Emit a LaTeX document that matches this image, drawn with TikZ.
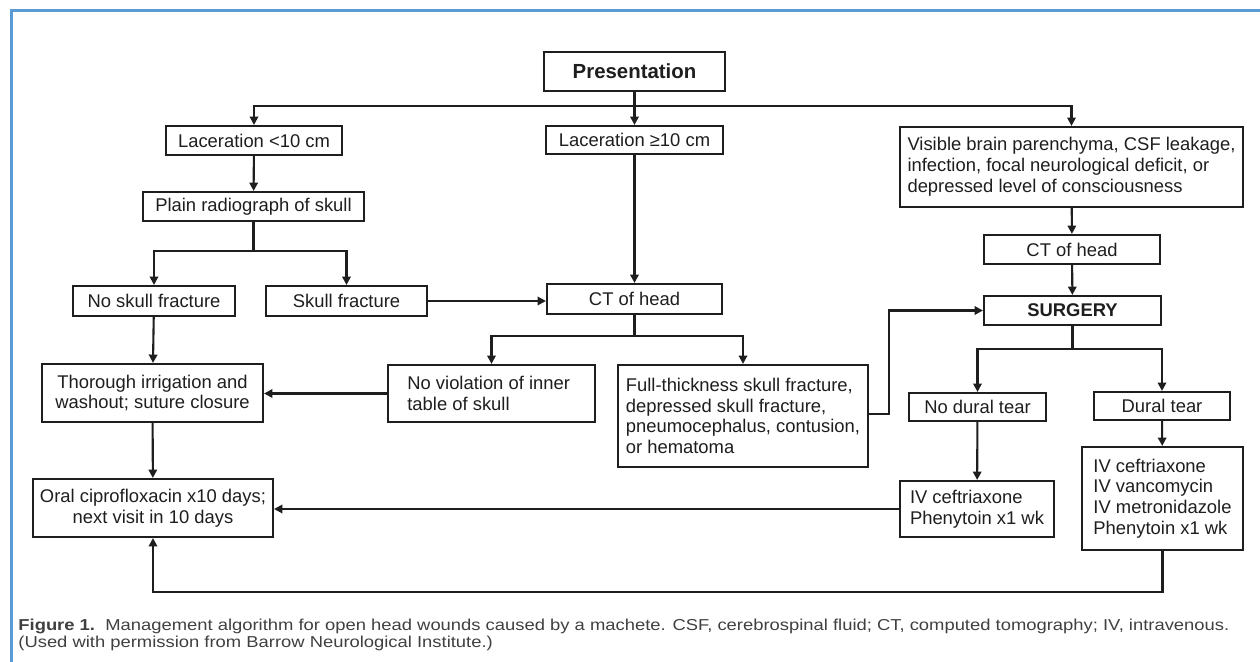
\documentclass[tikz,border=0pt]{standalone}
\usepackage{fontspec}
\setmainfont{Liberation Sans}
\usetikzlibrary{arrows.meta}
\definecolor{frameblue}{RGB}{91,155,213}
\definecolor{ink}{RGB}{30,30,30}
\tikzset{
  box/.style={draw=ink, line width=1.05pt, text=ink, inner sep=2pt, font=\fontsize{9.2}{10.4}\selectfont},
  lbox/.style={box, align=left},
  cbox/.style={box, align=center},
  arr/.style={draw=ink, line width=1.05pt, -{Triangle[length=4.2pt,width=4.2pt]}},
  ln/.style={draw=ink, line width=1.05pt},
  capt/.style={anchor=base west, inner sep=0pt, text=ink!85, font=\fontsize{9.2}{11}\selectfont}
}
\begin{document}
\begin{tikzpicture}[x=0.5pt,y=-0.5pt]
\useasboundingbox (0,0) rectangle (1260,662);
\fill[white] (0,0) rectangle (1260,662);
\draw[frameblue, line width=1.5pt] (11,662) -- (11,11) -- (1260,11);

% boxes
\node[cbox, minimum width=90.5pt, minimum height=19.5pt, font=\fontsize{10.2}{12}\selectfont\bfseries] (pres) at (634.5,71.5) {Presentation};
\node[cbox, minimum width=88pt, minimum height=14.5pt] (lac1) at (254,140.5) {Laceration <10 cm};
\node[cbox, minimum width=88.5pt, minimum height=14pt] (lac2) at (634.5,140) {Laceration ≥10 cm};
\node[lbox, minimum width=171.5pt, minimum height=40pt] (vis) at (1071.5,167) {Visible brain parenchyma, CSF leakage,\\infection, focal neurological deficit, or\\depressed level of consciousness};
\node[cbox, minimum width=110.5pt, minimum height=14.5pt] (rad) at (253.5,206.5) {Plain radiograph of skull};
\node[cbox, minimum width=81pt, minimum height=15pt] (nofx) at (154,301) {No skull fracture};
\node[cbox, minimum width=80.5pt, minimum height=15pt] (fx) at (346.5,301) {Skull fracture};
\node[cbox, minimum width=87.5pt, minimum height=15pt] (ct1) at (634.5,299) {CT of head};
\node[cbox, minimum width=88pt, minimum height=14.5pt] (ct2) at (1072,249.5) {CT of head};
\node[cbox, minimum width=88.5pt, minimum height=14.5pt, font=\fontsize{9.2}{10.4}\selectfont\bfseries] (surg) at (1072.5,310.5) {SURGERY};
\node[cbox, minimum width=110.5pt, minimum height=29pt] (irr) at (152.5,393) {Thorough irrigation and\\washout; suture closure};
\node[lbox, minimum width=103.5pt, minimum height=28.5pt] (noviol) at (491.5,393.5) {No violation of inner\\table of skull\hspace*{33pt}};
\node[lbox, minimum width=125pt, minimum height=51pt] (full) at (743,416) {Full-thickness skull fracture,\\depressed skull fracture,\\pneumocephalus, contusion,\\or hematoma};
\node[cbox, minimum width=68.5pt, minimum height=14pt] (nodt) at (977.5,407) {No dural tear};
\node[cbox, minimum width=68pt, minimum height=14pt] (dt) at (1162,406) {Dural tear};
\node[lbox, minimum width=77pt, minimum height=28pt] (ivnd) at (977,509) {IV ceftriaxone\\Phenytoin x1 wk};
\node[lbox, minimum width=80.5pt, minimum height=51.5pt] (ivd) at (1162.5,498.5) {IV ceftriaxone\\IV vancomycin\\IV metronidazole\\Phenytoin x1 wk};
\node[cbox, minimum width=120pt, minimum height=29pt] (oral) at (153,508) {Oral ciprofloxacin x10 days;\\next visit in 10 days};

% connectors
\coordinate (b1) at (634.5,106);
\draw[ln] (pres) -- (b1);
\draw[arr] (b1) -| (lac1);
\draw[arr] (b1) -- (lac2);
\draw[arr] (b1) -| (vis);
\draw[arr] (lac1) -- (rad);
\coordinate (b2) at (253.5,251);
\draw[ln] (rad) -- (b2);
\draw[arr] (b2) -| (nofx);
\draw[arr] (b2) -| (fx);
\draw[arr] (fx.east) -- (fx.east -| ct1.west);
\draw[arr] (lac2) -- (ct1);
\coordinate (b3) at (634.5,336);
\draw[ln] (ct1) -- (b3);
\draw[arr] (b3) -| (noviol);
\draw[arr] (b3) -| (full);
\draw[arr] (nofx) -- (irr);
\draw[arr] (noviol.west) -- (noviol.west -| irr.east);
\coordinate (c1) at (889,414);
\draw[arr] (full.east |- c1) -- (c1) |- (surg.west);
\draw[arr] (vis) -- (ct2);
\draw[arr] (ct2) -- (surg);
\coordinate (b4) at (1072.5,349);
\draw[ln] (surg) -- (b4);
\draw[arr] (b4) -| (nodt);
\draw[arr] (b4) -| (dt);
\draw[arr] (irr) -- (oral);
\draw[arr] (nodt) -- (ivnd);
\draw[arr] (dt) -- (ivd);
\draw[arr] (ivnd.west) -- (ivnd.west -| oral.east);
\coordinate (c2) at (1162.5,592);
\draw[arr] (ivd.south) -- (c2) -| (oral.south);

% caption
\node[capt] (cap1) at (18,631) {\scalebox{1}[0.86]{{\bfseries Figure 1.}\ \ Management algorithm for open head wounds caused by a machete. CSF, cerebrospinal fluid; CT, computed tomography; IV, intravenous.}};
\node[capt] (cap2) at (18,648) {\scalebox{1}[0.86]{(Used with permission from Barrow Neurological Institute.)}};
\end{tikzpicture}
\end{document}
